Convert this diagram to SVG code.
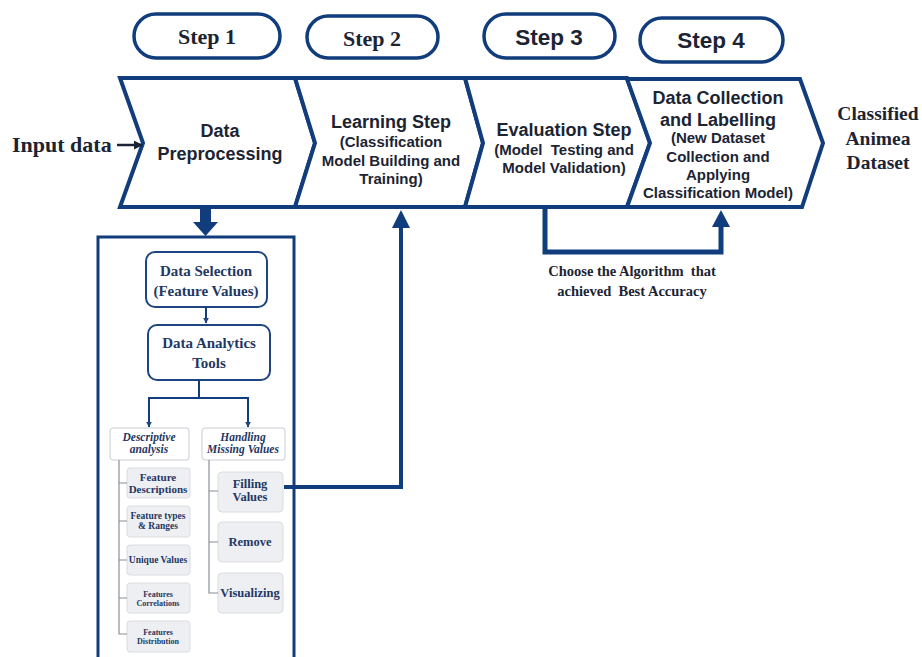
<svg xmlns="http://www.w3.org/2000/svg" width="922" height="657" viewBox="0 0 922 657">
<defs>
<style>
.pill{fill:#fff;stroke:#113d7c;stroke-width:3.5}
.chev{fill:#fff;stroke:#113d7c;stroke-width:4;stroke-linejoin:miter}
.serifB{font-family:"Liberation Serif","Times New Roman",serif;font-weight:bold}
.sansB{font-family:"Liberation Sans",Arial,sans-serif;font-weight:bold}
.dark{fill:#1c2433}
.navy{fill:#1f3864}
.box{fill:#fff;stroke:#1d4580;stroke-width:2}
.hdr{fill:#fff;stroke:#c8ccd2;stroke-width:1}
.item{fill:#eeeff2;stroke:#dadcdf;stroke-width:1}
.tree{fill:none;stroke:#8a8f96;stroke-width:1.2}
.conn{fill:none;stroke:#113d7c}
</style>
<marker id="ah" viewBox="0 0 10 10" refX="9" refY="5" markerWidth="6" markerHeight="6" orient="auto" markerUnits="userSpaceOnUse"><path d="M0,0 L10,5 L0,10 Z" fill="#1d4580"/></marker>
<marker id="ahk" viewBox="0 0 10 10" refX="9" refY="5" markerWidth="9" markerHeight="9" orient="auto" markerUnits="userSpaceOnUse"><path d="M0,0 L10,5 L0,10 Z" fill="#1c2433"/></marker>
</defs>
<rect width="922" height="657" fill="#fff"/>

<g id="step1"><rect class="pill" x="134" y="14" width="146" height="44" rx="22"/><text class="serifB dark" x="207" y="44" font-size="22" text-anchor="middle">Step 1</text></g>
<g id="step2"><rect class="pill" x="307" y="16" width="131" height="42" rx="21"/><text class="serifB dark" x="372" y="46" font-size="22" text-anchor="middle">Step 2</text></g>
<g id="step3"><rect class="pill" x="484" y="14" width="131" height="44" rx="22"/><text class="sansB dark" x="549" y="45" font-size="22.5" text-anchor="middle">Step 3</text></g>
<g id="step4"><rect class="pill" x="640" y="18" width="143" height="44" rx="22"/><text class="sansB dark" x="711" y="48" font-size="22.5" text-anchor="middle">Step 4</text></g>

<g id="input"><text class="serifB dark" x="12" y="152" font-size="22">Input data</text></g>

<g id="preprocessing"><path class="chev" d="M120,78 L295,78 L315,143 L295,207 L120,207 L143,143 Z"/>
<text class="sansB dark" font-size="18" text-anchor="middle"><tspan x="220" y="137">Data</tspan><tspan x="220" y="160">Preprocessing</tspan></text></g>

<g id="learning"><path class="chev" d="M295,78 L465,78 L483,143 L465,207 L295,207 L315,143 Z"/>
<text class="sansB dark" text-anchor="middle"><tspan x="391" y="128" font-size="18">Learning Step</tspan><tspan x="391" y="147" font-size="15">(Classification</tspan><tspan x="391" y="166" font-size="15">Model Building and</tspan><tspan x="391" y="184" font-size="15">Training)</tspan></text></g>

<g id="evaluation"><path class="chev" d="M465,78 L627,78 L650,143 L627,207 L465,207 L483,143 Z"/>
<text class="sansB dark" text-anchor="middle"><tspan x="564" y="136" font-size="18">Evaluation Step</tspan><tspan x="564" y="155" font-size="15">(Model&#160; Testing and</tspan><tspan x="564" y="173" font-size="15">Model Validation)</tspan></text></g>

<g id="collection"><path class="chev" d="M627,79 L800,79 L823,143 L802,207 L627,207 L650,143 Z"/>
<text class="sansB dark" text-anchor="middle"><tspan x="718" y="104" font-size="18">Data Collection</tspan><tspan x="718" y="126" font-size="18">and Labelling</tspan><tspan x="718" y="143" font-size="15">(New Dataset</tspan><tspan x="718" y="162" font-size="15">Collection and</tspan><tspan x="718" y="180" font-size="15">Applying</tspan><tspan x="718" y="198" font-size="15">Classification Model)</tspan></text></g>

<g id="classified"><text class="serifB dark" font-size="19.5" text-anchor="middle"><tspan x="878" y="120">Classified</tspan><tspan x="878" y="145">Animea</tspan><tspan x="878" y="169">Dataset</tspan></text></g>

<g id="panel"><rect x="98" y="237" width="196" height="430" fill="#fff" stroke="#113d7c" stroke-width="3"/></g>

<g id="dataSelection"><rect class="box" x="146" y="252" width="121" height="55" rx="9"/>
<text class="serifB navy" font-size="15" text-anchor="middle"><tspan x="206" y="276">Data Selection</tspan><tspan x="206" y="296">(Feature Values)</tspan></text></g>

<g id="dataAnalytics"><rect class="box" x="148" y="325" width="122" height="55" rx="9"/>
<text class="serifB navy" font-size="15" text-anchor="middle"><tspan x="209" y="348">Data Analytics</tspan><tspan x="209" y="368">Tools</tspan></text></g>

<g id="descriptive"><rect class="hdr" x="110" y="428" width="79" height="32" rx="3"/>
<text font-family="Liberation Serif,serif" font-style="italic" font-weight="bold" class="navy" font-size="11.5" text-anchor="middle"><tspan x="149" y="441">Descriptive</tspan><tspan x="149" y="453">analysis</tspan></text></g>

<g id="handling"><rect class="hdr" x="202" y="428" width="83" height="32" rx="3"/>
<text font-family="Liberation Serif,serif" font-style="italic" font-weight="bold" class="navy" font-size="11.5" text-anchor="middle"><tspan x="243" y="441">Handling</tspan><tspan x="243" y="453">Missing Values</tspan></text></g>

<g id="featDesc"><rect class="item" x="127" y="468" width="63" height="30" rx="3"/>
<text class="serifB navy" font-size="11" text-anchor="middle"><tspan x="158" y="481">Feature</tspan><tspan x="158" y="493">Descriptions</tspan></text></g>
<g id="featTypes"><rect class="item" x="127" y="506" width="63" height="31" rx="3"/>
<text class="serifB navy" font-size="9.5" text-anchor="middle"><tspan x="158" y="519">Feature types</tspan><tspan x="158" y="529">&amp; Ranges</tspan></text></g>
<g id="unique"><rect class="item" x="127" y="545" width="63" height="30" rx="3"/>
<text class="serifB navy" font-size="9.5" text-anchor="middle"><tspan x="158" y="563">Unique Values</tspan></text></g>
<g id="correl"><rect class="item" x="127" y="583" width="63" height="30" rx="3"/>
<text class="serifB navy" font-size="8" text-anchor="middle"><tspan x="158" y="597">Features</tspan><tspan x="158" y="606">Correlations</tspan></text></g>
<g id="distrib"><rect class="item" x="127" y="621" width="63" height="31" rx="3"/>
<text class="serifB navy" font-size="8" text-anchor="middle"><tspan x="158" y="635">Features</tspan><tspan x="158" y="644">Distribution</tspan></text></g>

<g id="filling"><rect class="item" x="218" y="472" width="65" height="40" rx="4"/>
<text class="serifB navy" font-size="12.5" text-anchor="middle"><tspan x="250" y="488">Filling</tspan><tspan x="250" y="501">Values</tspan></text></g>
<g id="remove"><rect class="item" x="218" y="522" width="65" height="40" rx="4"/>
<text class="serifB navy" font-size="12.5" text-anchor="middle"><tspan x="250" y="546">Remove</tspan></text></g>
<g id="visualizing"><rect class="item" x="218" y="573" width="65" height="40" rx="4"/>
<text class="serifB navy" font-size="12.5" text-anchor="middle"><tspan x="250" y="597">Visualizing</tspan></text></g>

<g id="loopLabel"><text class="serifB dark" font-size="14.5" text-anchor="middle"><tspan x="632" y="276">Choose the Algorithm&#160; that</tspan><tspan x="632" y="296">achieved&#160; Best Accuracy</tspan></text></g>

<g id="connectors">
<line x1="117" y1="145" x2="142" y2="145" stroke="#1c2433" stroke-width="2.5" marker-end="url(#ahk)"/>
<rect x="200" y="208" width="11" height="15" fill="#113d7c"/>
<path d="M193,222 L218,222 L205.5,236 Z" fill="#113d7c"/>
<path class="conn" stroke-width="4" d="M284,487 L401,487 L401,226"/>
<path d="M392,228 L410,228 L401,210 Z" fill="#113d7c"/>
<path class="conn" stroke-width="5" d="M545,207 L545,252 L721,252 L721,226"/>
<path d="M712,227 L730,227 L721,210 Z" fill="#113d7c"/>
<line class="conn" stroke-width="2" x1="206" y1="307" x2="206" y2="323" marker-end="url(#ah)"/>
<path class="conn" stroke-width="2" d="M199,380 L199,398 M148,398 L248,398"/>
<line class="conn" stroke-width="2" x1="149" y1="397" x2="149" y2="427" marker-end="url(#ah)"/>
<line class="conn" stroke-width="2" x1="248" y1="397" x2="248" y2="427" marker-end="url(#ah)"/>
<path class="tree" d="M119,460 L119,634 L127,634 M119,483 L127,483 M119,521 L127,521 M119,560 L127,560 M119,598 L127,598"/>
<path class="tree" d="M209,460 L209,593 L218,593 M209,491 L218,491 M209,542 L218,542"/>
</g>
</svg>
